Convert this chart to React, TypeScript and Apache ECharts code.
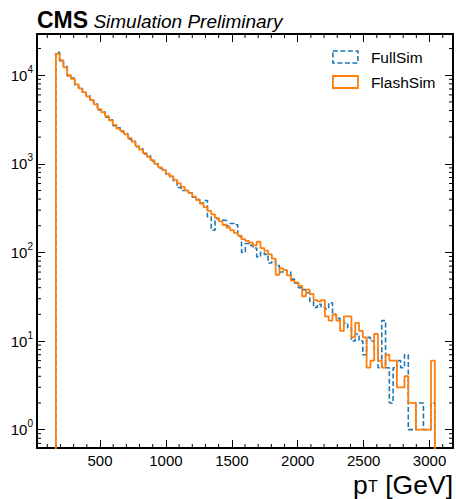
import { useEffect, useRef } from "react";
import * as echarts from "echarts";

// Histogram binning (GeV)
const BIN_START = 165;
const BIN_WIDTH = 28.75;

// FlashSim counts per bin
const flashSimCounts = [
  17400, 14800, 12300, 10000, 9100, 7900, 7100, 6450, 5750, 5250,
  4700, 4150, 3800, 3450, 3100, 2750, 2500, 2350, 2150, 1950,
  1780, 1585, 1445, 1320, 1200, 1100, 1000, 912, 851, 776,
  724, 660, 603, 550, 501, 468, 427, 389, 355, 324,
  295, 269, 245, 224, 204, 191, 178, 166, 155, 141,
  135, 129, 120, 132, 112, 105, 95, 85, 56, 66,
  63, 55, 48, 46, 42, 32, 38, 34, 29, 28,
  29, 19, 17, 20, 17, 13, 19, 19, 11, 16,
  13, 11, 5, 6, 12, 6, 5, 7, 6, 6,
  3, 3, 4, 2, 2, 1, 1, 1, 1, 6,
];

// FullSim counts per bin
const fullSimCounts = [
  18100, 14500, 12600, 9800, 9300, 7700, 7200, 6300, 5900, 5150,
  4750, 4050, 3850, 3350, 3150, 2700, 2550, 2300, 2200, 1900,
  1800, 1560, 1480, 1290, 1230, 1080, 1010, 890, 870, 760,
  720, 640, 540, 500, 500, 470, 420, 395, 360, 385,
  252, 178, 240, 232, 229, 200, 212, 205, 151, 100,
  126, 120, 112, 89, 100, 95, 76, 79, 71, 60,
  63, 60, 50, 45, 40, 38, 35, 28, 24, 26,
  24, 23, 27, 20, 18, 17, 16, 14, 10, 12,
  10, 7, 11, 10, 8, 5, 17, 5, 2, 5,
  6, 5, 7, 1, 1, 2, 2, 1, 1, 2,
];

const SERIES_NAMES = ["FullSim", "FlashSim"];

// Axis ranges
const X_MIN = 22;
const X_MAX = 3178;
const Y_MIN = 0.62;
const Y_MAX = 29200;
const X_MAJOR_STEP = 500;
const X_MINOR_STEP = 100;
const FLOOR = 0.001;

const BLUE = "#1f77b4";
const ORANGE = "#ff7f0e";
const FONT = '"Liberation Sans", Arial, Helvetica, sans-serif';

function histPoints(counts: number[]) {
  const pts: number[][] = [[BIN_START, FLOOR]];
  counts.forEach((c, i) => pts.push([BIN_START + i * BIN_WIDTH, c > 0 ? c : FLOOR]));
  const end = BIN_START + counts.length * BIN_WIDTH;
  pts.push([end, counts[counts.length - 1]]);
  pts.push([end, FLOOR]);
  return pts;
}

function xMinorValues() {
  const out: number[] = [];
  for (let v = X_MINOR_STEP; v < X_MAX; v += X_MINOR_STEP) {
    if (v > X_MIN && v % X_MAJOR_STEP !== 0) out.push(v);
  }
  return out;
}

function yMinorValues() {
  const out: number[] = [];
  for (let d = -1; d <= 4; d++) {
    for (let m = 2; m <= 9; m++) {
      const v = m * Math.pow(10, d);
      if (v > Y_MIN && v < Y_MAX) out.push(v);
    }
  }
  return out;
}

const lineTick = (x1: number, y1: number, x2: number, y2: number) => ({
  type: "line",
  shape: { x1, y1, x2, y2 },
  style: { stroke: "#000", lineWidth: 1 },
});

export default function App() {
  const ref = useRef<HTMLDivElement>(null);

  useEffect(() => {
    if (!ref.current) return;
    const chart = echarts.init(ref.current, undefined, { renderer: "svg" });

    const axisLineStyle = { show: true, lineStyle: { color: "#000", width: 2 } };
    const majorTick = { show: true, inside: true, length: 8, lineStyle: { color: "#000", width: 1 } };

    const isPow10 = (v: number) => {
      const l = Math.log10(v);
      return Math.abs(l - Math.round(l)) < 1e-6;
    };

    const legendText = { fontSize: 15.5, color: "#000", fontFamily: FONT, lineHeight: 18, padding: [0, 0, 0, 8] };

    const option: any = {
      animation: false,
      backgroundColor: "#fff",
      grid: { left: 37, top: 34, right: 3, bottom: 51, containLabel: false },
      xAxis: [
        {
          type: "value",
          min: X_MIN,
          max: X_MAX,
          position: "bottom",
          axisLine: axisLineStyle,
          axisTick: majorTick,
          splitLine: { show: false },
          axisLabel: {
            margin: 5,
            color: "#000",
            fontSize: 15,
            fontFamily: FONT,
            formatter: (v: number) => (v > 0 && v % X_MAJOR_STEP === 0 ? String(v) : ""),
          },
        },
        {
          type: "value",
          min: X_MIN,
          max: X_MAX,
          position: "top",
          axisLine: axisLineStyle,
          axisTick: majorTick,
          splitLine: { show: false },
          axisLabel: { show: false },
        },
      ],
      yAxis: [
        {
          type: "log",
          logBase: 10,
          min: Y_MIN,
          max: Y_MAX,
          position: "left",
          axisLine: axisLineStyle,
          axisTick: majorTick,
          splitLine: { show: false },
          axisLabel: {
            margin: 4,
            color: "#000",
            formatter: (v: number) => (isPow10(v) ? `{b|10}{s|${Math.round(Math.log10(v))}}` : ""),
            rich: {
              b: { fontSize: 15, fontFamily: FONT, color: "#000", lineHeight: 22 },
              s: { fontSize: 10, fontFamily: FONT, color: "#000", lineHeight: 12, verticalAlign: "top" },
            },
          },
        },
        {
          type: "log",
          logBase: 10,
          min: Y_MIN,
          max: Y_MAX,
          position: "right",
          axisLine: axisLineStyle,
          axisTick: majorTick,
          splitLine: { show: false },
          axisLabel: { show: false },
        },
      ],
      legend: {
        orient: "vertical",
        left: 327,
        top: 43,
        padding: 5,
        itemWidth: 25,
        itemHeight: 12,
        itemGap: 7,
        selectedMode: false,
        textStyle: legendText,
        data: [
          {
            name: SERIES_NAMES[0],
            icon: "rect",
            textStyle: legendText,
            itemStyle: { color: "transparent", borderColor: BLUE, borderWidth: 1.6, borderType: [5, 2.5] },
          },
          {
            name: SERIES_NAMES[1],
            icon: "rect",
            textStyle: legendText,
            itemStyle: { color: "transparent", borderColor: ORANGE, borderWidth: 1.8, borderType: "solid" },
          },
        ],
      },
      graphic: [
        {
          type: "text",
          left: 37,
          top: 8,
          style: {
            text: "{a|CMS}{b| Simulation Preliminary}",
            align: "left",
            rich: {
              a: {
                fontFamily: FONT,
                fontWeight: "bold",
                fontSize: 23,
                lineHeight: 23,
                verticalAlign: "bottom",
                fill: "#000",
                color: "#000",
              },
              b: {
                fontFamily: FONT,
                fontStyle: "italic",
                fontSize: 19,
                lineHeight: 19,
                verticalAlign: "bottom",
                fill: "#000",
                color: "#000",
              },
            },
          },
        },
        {
          type: "text",
          left: 353,
          top: 471.5,
          style: { text: "p", font: `26.5px ${FONT}`, lineHeight: 20, fill: "#000" },
        },
        {
          type: "text",
          left: 368,
          top: 478.2,
          style: { text: "T", font: `16px ${FONT}`, lineHeight: 12, fill: "#000" },
        },
        {
          type: "text",
          right: 3,
          top: 471.5,
          style: { text: "[GeV]", font: `26.5px ${FONT}`, lineHeight: 20, fill: "#000" },
        },
      ],
      series: [
        {
          name: SERIES_NAMES[0],
          type: "line",
          step: "end",
          xAxisIndex: 0,
          yAxisIndex: 0,
          data: histPoints(fullSimCounts),
          showSymbol: false,
          symbol: "none",
          clip: true,
          color: BLUE,
          lineStyle: { color: BLUE, width: 1.6, type: [5, 2.5] },
          z: 2,
        },
        {
          name: SERIES_NAMES[1],
          type: "line",
          step: "end",
          xAxisIndex: 0,
          yAxisIndex: 0,
          data: histPoints(flashSimCounts),
          showSymbol: false,
          symbol: "none",
          clip: true,
          color: ORANGE,
          lineStyle: { color: ORANGE, width: 1.8, type: "solid" },
          z: 3,
        },
        {
          type: "custom",
          xAxisIndex: 0,
          yAxisIndex: 0,
          silent: true,
          z: 5,
          data: yMinorValues().map((v) => [X_MIN, v]),
          renderItem: (_p: any, api: any) => {
            const v = api.value(1);
            const l = api.coord([X_MIN, v]);
            const r = api.coord([X_MAX, v]);
            return {
              type: "group",
              children: [lineTick(l[0], l[1], l[0] + 4, l[1]), lineTick(r[0] - 4, r[1], r[0], r[1])],
            };
          },
        },
        {
          type: "custom",
          xAxisIndex: 0,
          yAxisIndex: 0,
          silent: true,
          z: 5,
          data: xMinorValues().map((v) => [v, Y_MIN]),
          renderItem: (_p: any, api: any) => {
            const v = api.value(0);
            const b = api.coord([v, Y_MIN]);
            const t = api.coord([v, Y_MAX]);
            return {
              type: "group",
              children: [lineTick(b[0], b[1], b[0], b[1] - 4), lineTick(t[0], t[1], t[0], t[1] + 4)],
            };
          },
        },
      ],
    };

    chart.setOption(option);
    return () => chart.dispose();
  }, []);

  return (
    <div
      ref={ref}
      style={{ position: "fixed", left: 0, top: 0, width: 456, height: 499, background: "#fff" }}
    />
  );
}
